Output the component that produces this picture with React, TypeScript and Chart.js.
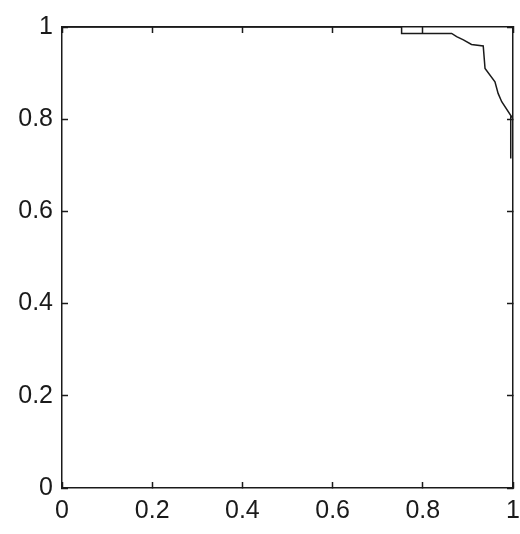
import { useEffect, useRef } from 'react';
import { Chart, registerables } from 'chart.js';

Chart.register(...registerables);

// precision / recall curve
const recall = [0, 0.753, 0.753, 0.864, 0.875, 0.89, 0.908, 0.934, 0.938, 0.96, 0.967, 0.975, 0.997, 0.995, 0.995];
const precision = [1, 1, 0.986, 0.986, 0.979, 0.972, 0.962, 0.959, 0.91, 0.881, 0.856, 0.838, 0.805, 0.805, 0.715];

const xTicks = [0, 0.2, 0.4, 0.6, 0.8, 1];
const yTicks = [0, 0.2, 0.4, 0.6, 0.8, 1];

const INK = '#1a1a1a';
const FONT = { family: "'Liberation Sans', Arial, sans-serif", size: 25 };

function axis(position: string, ticks: number[], showLabels: boolean, size: number, padding: number) {
  const horizontal = position === 'top' || position === 'bottom';
  return {
    type: 'linear',
    position,
    min: 0,
    max: 1,
    afterBuildTicks: (scale: any) => {
      scale.ticks = ticks.map(v => ({ value: v }));
    },
    afterFit: (scale: any) => {
      // fixed box sizes so the plot area lands where the reference has it
      if (horizontal) scale.height = size;
      else scale.width = size;
      scale.paddingLeft = 0;
      scale.paddingRight = 0;
      scale.paddingTop = 0;
      scale.paddingBottom = 0;
    },
    grid: {
      drawOnChartArea: false,
      drawTicks: true,
      tickLength: -6,
      tickColor: INK,
      tickWidth: 1.5,
    },
    border: { display: true, color: INK, width: 1.5 },
    ticks: {
      display: showLabels,
      color: INK,
      font: FONT,
      padding,
      maxRotation: 0,
      autoSkip: false,
      callback: (v: any) => String(v),
    },
  };
}

export default function App() {
  const canvasRef = useRef<HTMLCanvasElement>(null);
  const chartRef = useRef<Chart | null>(null);

  useEffect(() => {
    if (!canvasRef.current) return;
    chartRef.current?.destroy();

    chartRef.current = new Chart(canvasRef.current, {
      type: 'scatter',
      data: {
        datasets: [{
          data: recall.map((r, i) => ({ x: r, y: precision[i] })),
          showLine: true,
          borderColor: INK,
          borderWidth: 1.5,
          pointRadius: 0,
          fill: false,
          tension: 0,
        }],
      },
      options: {
        responsive: false,
        animation: false,
        layout: { padding: 0 },
        plugins: { legend: { display: false }, tooltip: { enabled: false } },
        scales: {
          x: axis('bottom', xTicks, true, 46, 14),
          x2: axis('top', xTicks, false, 27, 0),
          y: axis('left', yTicks, true, 62, 15),
          y2: axis('right', yTicks, false, 7, 0),
        } as any,
      },
    });

    return () => { chartRef.current?.destroy(); };
  }, []);

  return (
    <div style={{ position: 'fixed', left: 0, top: 0, width: 520, height: 534, background: '#fff' }}>
      <canvas ref={canvasRef} width={520} height={534} style={{ width: 520, height: 534 }} />
    </div>
  );
}
